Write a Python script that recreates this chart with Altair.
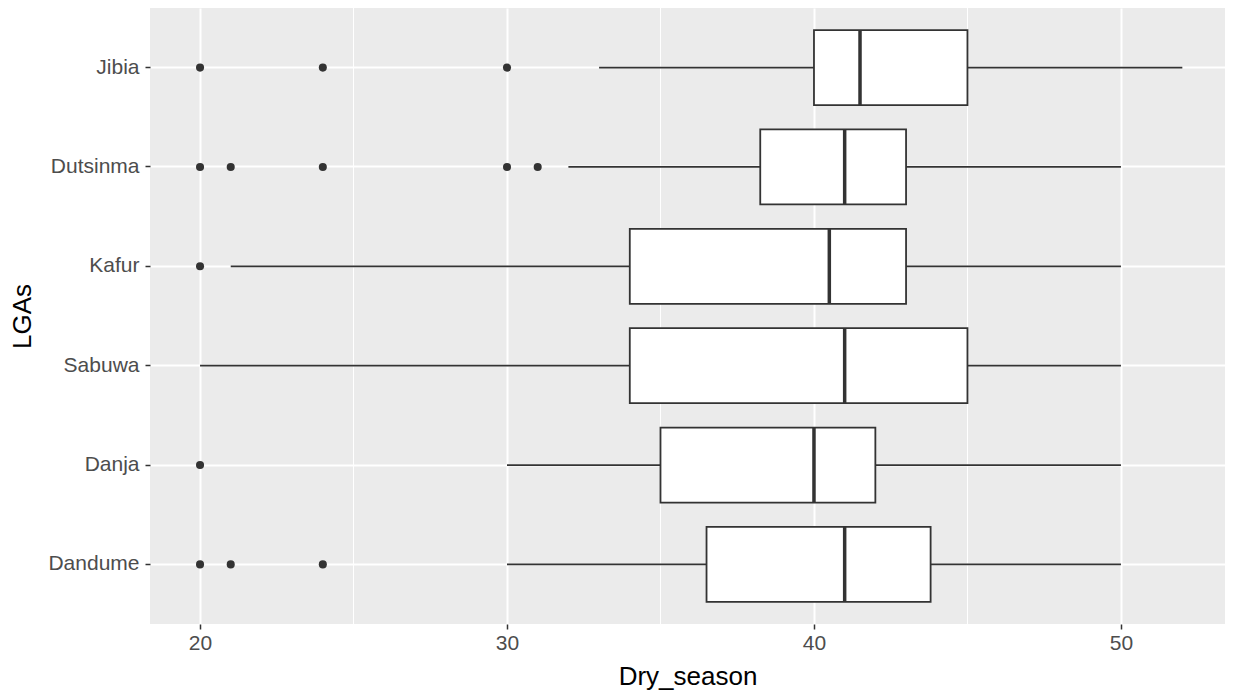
import altair as alt
import pandas as pd

lgas = ["Jibia", "Dutsinma", "Kafur", "Sabuwa", "Danja", "Dandume"]
whisk_lo = [33, 32, 21, 20, 30, 30]
q1 = [40, 38.25, 34, 34, 35, 36.5]
median = [41.5, 41, 40.5, 41, 40, 41]
q3 = [45, 43, 43, 45, 42, 43.8]
whisk_hi = [52, 50, 50, 50, 50, 50]

out_lga = ["Jibia", "Jibia", "Jibia",
           "Dutsinma", "Dutsinma", "Dutsinma", "Dutsinma", "Dutsinma",
           "Kafur", "Danja",
           "Dandume", "Dandume", "Dandume"]
out_val = [20, 24, 30,
           20, 21, 24, 30, 31,
           20, 20,
           20, 21, 24]

minor_ticks = [25, 35, 45]

stats = pd.DataFrame({"LGAs": lgas, "lo": whisk_lo, "q1": q1, "med": median,
                      "q3": q3, "hi": whisk_hi})
outs = pd.DataFrame({"LGAs": out_lga, "Dry_season": out_val})
minor = pd.DataFrame({"v": minor_ticks})

FONT = "Liberation Sans"
DARK = "#333333"

xscale = alt.Scale(domain=[18.37, 53.39], nice=False, zero=False)
yscale = alt.Scale(domain=lgas, paddingInner=0, paddingOuter=0.1)

xaxis = alt.Axis(title="Dry_season", values=[20, 30, 40, 50], grid=True,
                 gridColor="white", gridWidth=2, domain=False,
                 tickColor=DARK, tickSize=5, tickWidth=1.5,
                 labelColor="#4D4D4D", labelFontSize=21, labelFont=FONT,
                 labelPadding=3, titleFont=FONT, titleFontSize=26,
                 titleFontWeight="normal", titleColor="black", titlePadding=10)
yaxis = alt.Axis(title="LGAs", grid=True, gridColor="white", gridWidth=2,
                 domain=False, bandPosition=0.5,
                 tickColor=DARK, tickSize=5, tickWidth=1.5,
                 labelColor="#4D4D4D", labelFontSize=21, labelFont=FONT,
                 labelPadding=6, titleFont=FONT, titleFontSize=26,
                 titleFontWeight="normal", titleColor="black", titlePadding=12)

minor_rules = alt.Chart(minor).mark_rule(color="white", strokeWidth=1).encode(
    x=alt.X("v:Q", scale=xscale, axis=xaxis)
)

whiskers = alt.Chart(stats).mark_rule(color=DARK, strokeWidth=1.8).encode(
    x=alt.X("lo:Q", scale=xscale, axis=xaxis),
    x2="hi:Q",
    y=alt.Y("LGAs:N", scale=yscale, sort=lgas, axis=yaxis),
)

boxes = alt.Chart(stats).mark_bar(size=75, fill="white", stroke=DARK,
                                  strokeWidth=1.8).encode(
    x=alt.X("q1:Q", scale=xscale, axis=xaxis),
    x2="q3:Q",
    y=alt.Y("LGAs:N", scale=yscale, sort=lgas, axis=yaxis),
)

medians = alt.Chart(stats).mark_tick(color=DARK, size=75, thickness=3.5,
                                     opacity=1).encode(
    x=alt.X("med:Q", scale=xscale, axis=xaxis),
    y=alt.Y("LGAs:N", scale=yscale, sort=lgas, axis=yaxis),
)

points = alt.Chart(outs).mark_circle(color=DARK, size=65, opacity=1).encode(
    x=alt.X("Dry_season:Q", scale=xscale, axis=xaxis),
    y=alt.Y("LGAs:N", scale=yscale, sort=lgas, axis=yaxis),
)

chart = alt.layer(minor_rules, whiskers, boxes, medians, points).properties(
    width=1075, height=616,
    autosize=alt.AutoSizeParams(type="none"),
    padding={"left": 142, "top": 0, "right": 0, "bottom": 70},
).configure(background="white").configure_view(fill="#EBEBEB", stroke=None)

chart.save("out.html", embed_options={"renderer": "svg", "actions": False})
